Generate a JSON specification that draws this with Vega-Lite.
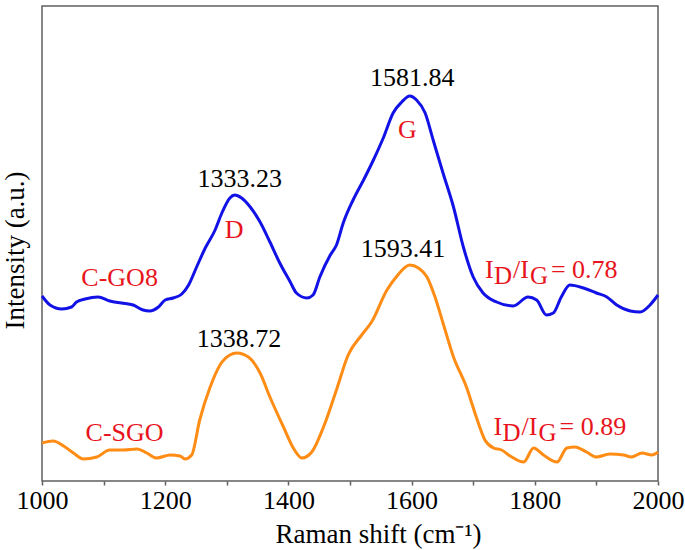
{
  "$schema": "https://vega.github.io/schema/vega-lite/v6.json",
  "width": 616,
  "height": 475,
  "autosize": {"type": "none"},
  "padding": {"left": 42, "top": 6, "right": 27, "bottom": 69},
  "background": "white",
  "config": {
    "view": {"stroke": "#5f5f5f", "strokeWidth": 1.5},
    "font": "Liberation Serif"
  },
  "datasets": {
    "spectra": [
      {"shift": 1000, "intensity": 189, "sample": "C-GO8"},
      {"shift": 1013, "intensity": 180, "sample": "C-GO8"},
      {"shift": 1032, "intensity": 176, "sample": "C-GO8"},
      {"shift": 1048, "intensity": 178, "sample": "C-GO8"},
      {"shift": 1056, "intensity": 183, "sample": "C-GO8"},
      {"shift": 1070, "intensity": 186, "sample": "C-GO8"},
      {"shift": 1091, "intensity": 188, "sample": "C-GO8"},
      {"shift": 1110, "intensity": 184, "sample": "C-GO8"},
      {"shift": 1129, "intensity": 182, "sample": "C-GO8"},
      {"shift": 1148, "intensity": 180, "sample": "C-GO8"},
      {"shift": 1164, "intensity": 175, "sample": "C-GO8"},
      {"shift": 1175, "intensity": 174, "sample": "C-GO8"},
      {"shift": 1189, "intensity": 178, "sample": "C-GO8"},
      {"shift": 1200, "intensity": 185, "sample": "C-GO8"},
      {"shift": 1213, "intensity": 187, "sample": "C-GO8"},
      {"shift": 1227, "intensity": 191, "sample": "C-GO8"},
      {"shift": 1238, "intensity": 200, "sample": "C-GO8"},
      {"shift": 1251, "intensity": 218, "sample": "C-GO8"},
      {"shift": 1265, "intensity": 237, "sample": "C-GO8"},
      {"shift": 1281, "intensity": 255, "sample": "C-GO8"},
      {"shift": 1292, "intensity": 272, "sample": "C-GO8"},
      {"shift": 1305, "intensity": 287, "sample": "C-GO8"},
      {"shift": 1313, "intensity": 290, "sample": "C-GO8"},
      {"shift": 1324, "intensity": 287, "sample": "C-GO8"},
      {"shift": 1338, "intensity": 278, "sample": "C-GO8"},
      {"shift": 1354, "intensity": 263, "sample": "C-GO8"},
      {"shift": 1370, "intensity": 243, "sample": "C-GO8"},
      {"shift": 1386, "intensity": 222, "sample": "C-GO8"},
      {"shift": 1403, "intensity": 203, "sample": "C-GO8"},
      {"shift": 1413, "intensity": 192, "sample": "C-GO8"},
      {"shift": 1430, "intensity": 187, "sample": "C-GO8"},
      {"shift": 1440, "intensity": 190, "sample": "C-GO8"},
      {"shift": 1451, "intensity": 208, "sample": "C-GO8"},
      {"shift": 1468, "intensity": 230, "sample": "C-GO8"},
      {"shift": 1478, "intensity": 240, "sample": "C-GO8"},
      {"shift": 1489, "intensity": 262, "sample": "C-GO8"},
      {"shift": 1505, "intensity": 285, "sample": "C-GO8"},
      {"shift": 1522, "intensity": 305, "sample": "C-GO8"},
      {"shift": 1538, "intensity": 325, "sample": "C-GO8"},
      {"shift": 1554, "intensity": 347, "sample": "C-GO8"},
      {"shift": 1570, "intensity": 372, "sample": "C-GO8"},
      {"shift": 1584, "intensity": 383, "sample": "C-GO8"},
      {"shift": 1597, "intensity": 389, "sample": "C-GO8"},
      {"shift": 1608, "intensity": 385, "sample": "C-GO8"},
      {"shift": 1622, "intensity": 372, "sample": "C-GO8"},
      {"shift": 1635, "intensity": 345, "sample": "C-GO8"},
      {"shift": 1651, "intensity": 312, "sample": "C-GO8"},
      {"shift": 1668, "intensity": 278, "sample": "C-GO8"},
      {"shift": 1684, "intensity": 238, "sample": "C-GO8"},
      {"shift": 1700, "intensity": 208, "sample": "C-GO8"},
      {"shift": 1716, "intensity": 192, "sample": "C-GO8"},
      {"shift": 1738, "intensity": 183, "sample": "C-GO8"},
      {"shift": 1765, "intensity": 179, "sample": "C-GO8"},
      {"shift": 1789, "intensity": 188, "sample": "C-GO8"},
      {"shift": 1803, "intensity": 185, "sample": "C-GO8"},
      {"shift": 1819, "intensity": 170, "sample": "C-GO8"},
      {"shift": 1830, "intensity": 172, "sample": "C-GO8"},
      {"shift": 1843, "intensity": 188, "sample": "C-GO8"},
      {"shift": 1857, "intensity": 200, "sample": "C-GO8"},
      {"shift": 1879, "intensity": 197, "sample": "C-GO8"},
      {"shift": 1900, "intensity": 192, "sample": "C-GO8"},
      {"shift": 1917, "intensity": 188, "sample": "C-GO8"},
      {"shift": 1933, "intensity": 180, "sample": "C-GO8"},
      {"shift": 1955, "intensity": 174, "sample": "C-GO8"},
      {"shift": 1971, "intensity": 173, "sample": "C-GO8"},
      {"shift": 1987, "intensity": 180, "sample": "C-GO8"},
      {"shift": 2000, "intensity": 190, "sample": "C-GO8"},
      {"shift": 1000, "intensity": 42, "sample": "C-SGO"},
      {"shift": 1018, "intensity": 44, "sample": "C-SGO"},
      {"shift": 1035, "intensity": 39, "sample": "C-SGO"},
      {"shift": 1051, "intensity": 32, "sample": "C-SGO"},
      {"shift": 1067, "intensity": 26, "sample": "C-SGO"},
      {"shift": 1089, "intensity": 28, "sample": "C-SGO"},
      {"shift": 1110, "intensity": 35, "sample": "C-SGO"},
      {"shift": 1132, "intensity": 35, "sample": "C-SGO"},
      {"shift": 1154, "intensity": 36, "sample": "C-SGO"},
      {"shift": 1170, "intensity": 32, "sample": "C-SGO"},
      {"shift": 1186, "intensity": 27, "sample": "C-SGO"},
      {"shift": 1208, "intensity": 30, "sample": "C-SGO"},
      {"shift": 1224, "intensity": 29, "sample": "C-SGO"},
      {"shift": 1232, "intensity": 26, "sample": "C-SGO"},
      {"shift": 1243, "intensity": 30, "sample": "C-SGO"},
      {"shift": 1256, "intensity": 65, "sample": "C-SGO"},
      {"shift": 1273, "intensity": 98, "sample": "C-SGO"},
      {"shift": 1289, "intensity": 120, "sample": "C-SGO"},
      {"shift": 1305, "intensity": 130, "sample": "C-SGO"},
      {"shift": 1316, "intensity": 132, "sample": "C-SGO"},
      {"shift": 1335, "intensity": 128, "sample": "C-SGO"},
      {"shift": 1354, "intensity": 112, "sample": "C-SGO"},
      {"shift": 1370, "intensity": 88, "sample": "C-SGO"},
      {"shift": 1392, "intensity": 58, "sample": "C-SGO"},
      {"shift": 1408, "intensity": 37, "sample": "C-SGO"},
      {"shift": 1422, "intensity": 27, "sample": "C-SGO"},
      {"shift": 1438, "intensity": 33, "sample": "C-SGO"},
      {"shift": 1457, "intensity": 58, "sample": "C-SGO"},
      {"shift": 1478, "intensity": 95, "sample": "C-SGO"},
      {"shift": 1497, "intensity": 130, "sample": "C-SGO"},
      {"shift": 1519, "intensity": 150, "sample": "C-SGO"},
      {"shift": 1535, "intensity": 163, "sample": "C-SGO"},
      {"shift": 1560, "intensity": 195, "sample": "C-SGO"},
      {"shift": 1575, "intensity": 208, "sample": "C-SGO"},
      {"shift": 1597, "intensity": 220, "sample": "C-SGO"},
      {"shift": 1611, "intensity": 217, "sample": "C-SGO"},
      {"shift": 1625, "intensity": 208, "sample": "C-SGO"},
      {"shift": 1638, "intensity": 188, "sample": "C-SGO"},
      {"shift": 1651, "intensity": 162, "sample": "C-SGO"},
      {"shift": 1668, "intensity": 128, "sample": "C-SGO"},
      {"shift": 1689, "intensity": 98, "sample": "C-SGO"},
      {"shift": 1705, "intensity": 68, "sample": "C-SGO"},
      {"shift": 1719, "intensity": 45, "sample": "C-SGO"},
      {"shift": 1733, "intensity": 37, "sample": "C-SGO"},
      {"shift": 1746, "intensity": 35, "sample": "C-SGO"},
      {"shift": 1760, "intensity": 29, "sample": "C-SGO"},
      {"shift": 1782, "intensity": 23, "sample": "C-SGO"},
      {"shift": 1798, "intensity": 37, "sample": "C-SGO"},
      {"shift": 1814, "intensity": 30, "sample": "C-SGO"},
      {"shift": 1836, "intensity": 23, "sample": "C-SGO"},
      {"shift": 1852, "intensity": 37, "sample": "C-SGO"},
      {"shift": 1865, "intensity": 38, "sample": "C-SGO"},
      {"shift": 1884, "intensity": 33, "sample": "C-SGO"},
      {"shift": 1900, "intensity": 28, "sample": "C-SGO"},
      {"shift": 1922, "intensity": 31, "sample": "C-SGO"},
      {"shift": 1944, "intensity": 30, "sample": "C-SGO"},
      {"shift": 1957, "intensity": 28, "sample": "C-SGO"},
      {"shift": 1974, "intensity": 32, "sample": "C-SGO"},
      {"shift": 1990, "intensity": 30, "sample": "C-SGO"},
      {"shift": 2000, "intensity": 33, "sample": "C-SGO"}
    ],
    "peaks": [
      {"shift": 1321, "intensity": 298, "label": "1333.23"},
      {"shift": 1601, "intensity": 399, "label": "1581.84"},
      {"shift": 1320, "intensity": 138, "label": "1338.72"},
      {"shift": 1586, "intensity": 228, "label": "1593.41"}
    ],
    "names": [
      {"shift": 1312, "intensity": 247, "label": "D"},
      {"shift": 1593, "intensity": 347, "label": "G"},
      {"shift": 1126, "intensity": 199, "label": "C-GO8"},
      {"shift": 1134, "intensity": 44, "label": "C-SGO"}
    ],
    "ratios": [
      {"shift": 1719, "intensity": 207, "value": "= 0.78"},
      {"shift": 1733, "intensity": 50, "value": "= 0.89"}
    ]
  },
  "encoding": {
    "x": {
      "field": "shift",
      "type": "quantitative",
      "scale": {"domain": [1000, 2000], "nice": false, "zero": false},
      "axis": {
        "title": "Raman shift (cm⁻¹)",
        "values": [1000, 1100, 1200, 1300, 1400, 1500, 1600, 1700, 1800, 1900, 2000],
        "labelExpr": "datum.value % 200 === 0 ? datum.value : ''",
        "grid": false,
        "domain": false,
        "ticks": true,
        "tickSize": 4,
        "tickColor": "#5f5f5f",
        "tickWidth": 1.5,
        "labelFont": "Liberation Serif",
        "labelFontSize": 26,
        "labelColor": "black",
        "labelBaseline": "alphabetic",
        "labelPadding": 23,
        "labelFlush": false,
        "labelOverlap": false,
        "titleFont": "Liberation Serif",
        "titleFontSize": 27,
        "titleFontWeight": "normal",
        "titleColor": "black",
        "titleBaseline": "alphabetic",
        "titleAlign": "center",
        "titleX": 336,
        "titleY": 61
      }
    },
    "y": {
      "field": "intensity",
      "type": "quantitative",
      "scale": {"domain": [4, 479], "nice": false, "zero": false},
      "axis": {
        "title": "Intensity (a.u.)",
        "labels": false,
        "ticks": false,
        "domain": false,
        "grid": false,
        "titleFont": "Liberation Serif",
        "titleFontSize": 27,
        "titleFontWeight": "normal",
        "titleColor": "black",
        "titleAngle": 270,
        "titleBaseline": "alphabetic",
        "titleAlign": "center",
        "titleX": -19,
        "titleY": 244
      }
    }
  },
  "layer": [
    {
      "data": {"name": "spectra"},
      "mark": {"type": "line", "strokeWidth": 3, "interpolate": "monotone"},
      "encoding": {
        "color": {
          "field": "sample",
          "type": "nominal",
          "scale": {"domain": ["C-GO8", "C-SGO"], "range": ["#1212e6", "#ff8c14"]},
          "legend": null
        }
      }
    },
    {
      "data": {"name": "peaks"},
      "mark": {"type": "text", "font": "Liberation Serif", "fontSize": 26, "color": "black", "align": "center", "baseline": "alphabetic"},
      "encoding": {"text": {"field": "label"}}
    },
    {
      "data": {"name": "names"},
      "mark": {"type": "text", "font": "Liberation Serif", "fontSize": 26, "color": "#e8141c", "align": "center", "baseline": "alphabetic"},
      "encoding": {"text": {"field": "label"}}
    },
    {
      "data": {"name": "ratios"},
      "mark": {"type": "text", "text": "I", "font": "Liberation Serif", "fontSize": 26, "color": "#e8141c", "align": "left", "baseline": "alphabetic"}
    },
    {
      "data": {"name": "ratios"},
      "mark": {"type": "text", "text": "D", "font": "Liberation Serif", "fontSize": 25, "color": "#e8141c", "align": "left", "baseline": "alphabetic", "dx": 9, "dy": 6}
    },
    {
      "data": {"name": "ratios"},
      "mark": {"type": "text", "text": "/I", "font": "Liberation Serif", "fontSize": 26, "color": "#e8141c", "align": "left", "baseline": "alphabetic", "dx": 28}
    },
    {
      "data": {"name": "ratios"},
      "mark": {"type": "text", "text": "G", "font": "Liberation Serif", "fontSize": 25, "color": "#e8141c", "align": "left", "baseline": "alphabetic", "dx": 45, "dy": 6}
    },
    {
      "data": {"name": "ratios"},
      "mark": {"type": "text", "font": "Liberation Serif", "fontSize": 26, "color": "#e8141c", "align": "left", "baseline": "alphabetic", "dx": 66},
      "encoding": {"text": {"field": "value"}}
    }
  ]
}
